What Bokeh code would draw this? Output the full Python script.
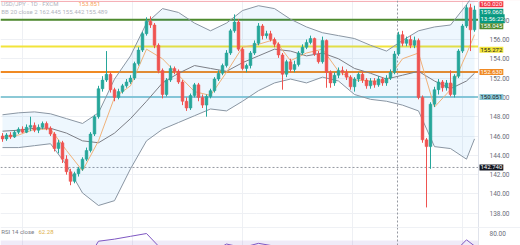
from bokeh.plotting import figure
from bokeh.models import ColumnDataSource, Label, Span, FixedTicker, Range1d, BoxAnnotation, PrintfTickFormatter
from bokeh.layouts import column
from bokeh.embed import file_html
from bokeh.resources import INLINE

# ---------------- data ----------------
idx = list(range(119))
opens = [146.0,145.7,146.1,145.9,146.4,146.7,146.4,146.9,147.1,146.6,146.9,147.3,146.8,146.2,144.7,145.3,143.6,142.3,141.3,142.1,
         142.6,143.6,144.5,146.2,148.0,150.9,151.8,152.4,150.8,150.0,150.6,151.2,151.6,152.0,153.5,154.9,156.6,157.9,157.5,155.4,
         152.8,150.3,151.8,153.0,152.7,151.6,149.6,148.9,150.2,151.3,150.0,149.2,150.1,150.7,151.9,152.5,153.3,154.6,156.9,157.8,
         155.0,153.0,153.3,154.6,155.6,157.4,156.4,156.6,156.0,155.5,154.4,152.4,153.7,152.9,153.4,154.6,155.2,155.7,156.1,154.5,
         153.7,155.9,152.6,151.5,152.3,152.8,152.6,152.1,151.1,151.9,152.4,151.8,151.2,151.7,151.3,151.9,151.5,152.0,152.6,154.5,
         156.5,155.6,156.0,155.4,155.9,150.0,145.6,144.9,149.3,150.8,151.6,151.0,151.5,150.3,152.2,154.8,157.4,159.3,157.0]
highs = [146.3,146.3,146.4,146.6,146.9,147.0,147.2,148.0,147.4,147.2,147.5,147.5,147.0,146.4,145.6,145.5,144.0,142.6,142.3,142.8,
         143.8,144.8,146.4,148.2,151.2,152.2,154.8,152.6,151.0,150.9,151.4,151.9,152.3,153.7,155.2,156.8,158.3,158.4,157.7,155.6,
         153.0,152.0,153.3,153.2,152.9,151.8,150.0,150.4,151.5,151.5,150.3,150.3,150.9,152.1,152.8,153.5,154.9,157.1,158.6,158.1,
         155.2,153.5,154.8,155.9,157.7,157.6,156.9,156.9,156.2,155.7,154.6,153.9,154.0,153.8,154.8,155.5,156.0,156.4,156.2,154.8,
         156.3,156.0,152.8,152.6,153.1,153.2,152.9,152.3,152.1,152.6,152.7,152.0,152.0,152.0,152.2,152.1,152.3,152.9,154.8,156.8,
         156.9,156.3,156.4,156.3,156.1,150.2,145.8,149.5,151.1,151.9,151.8,151.8,152.8,152.4,155.0,157.6,159.6,159.7,159.5]
lows = [145.4,145.5,145.7,145.8,146.2,146.3,146.3,146.5,146.4,146.3,146.7,146.6,146.0,144.4,144.2,143.2,142.0,140.9,141.1,141.8,
        142.4,143.4,144.3,146.0,147.8,150.6,151.6,150.5,149.6,149.8,150.4,151.0,151.4,151.8,153.3,154.7,156.4,157.2,155.1,152.5,
        149.9,150.1,151.6,152.4,151.4,149.2,148.6,148.7,150.0,149.6,148.9,148.0,149.9,150.5,151.7,152.3,153.1,154.4,156.7,154.8,
        152.8,152.6,153.0,154.4,155.4,156.0,156.1,155.8,155.2,154.1,150.8,152.1,152.6,152.6,153.2,154.4,155.0,155.5,154.3,153.5,
        153.5,151.0,151.0,151.2,152.0,152.3,151.8,150.8,150.6,151.6,151.5,150.9,150.9,151.0,151.1,151.2,151.2,151.8,152.4,154.3,
        155.3,155.3,155.1,155.1,149.8,145.3,138.6,142.6,149.0,150.3,150.6,150.7,150.1,150.0,152.0,154.6,157.2,154.8,156.8]
closes = [145.7,146.1,145.9,146.4,146.7,146.4,146.9,147.1,146.6,146.9,147.3,146.8,146.2,144.7,145.3,143.6,142.3,141.3,142.1,142.6,
          143.6,144.5,146.2,148.0,150.9,151.8,152.4,150.8,150.0,150.6,151.2,151.6,152.0,153.5,154.9,156.6,157.9,157.5,155.4,152.8,
          150.3,151.8,153.0,152.7,151.6,149.6,148.9,150.2,151.3,150.0,149.2,150.1,150.7,151.9,152.5,153.3,154.6,156.9,157.8,155.0,
          153.0,153.3,154.6,155.6,157.4,156.4,156.6,156.0,155.5,154.4,152.4,153.7,152.9,153.4,154.6,155.2,155.7,156.1,154.5,153.7,
          155.9,152.6,151.5,152.3,152.8,152.6,152.1,151.1,151.9,152.4,151.8,151.2,151.7,151.3,151.9,151.5,152.0,152.6,154.5,156.5,
          155.6,156.0,155.4,155.9,150.0,145.6,144.9,149.3,150.8,151.6,151.0,151.5,150.3,152.2,154.8,157.4,159.3,157.0,159.06]

band_idx = [0,4,8,12,16,20,24,28,32,36,40,44,48,52,56,60,64,68,72,76,80,84,88,92,96,100,104,108,112,116,118]
bb_upper = [148.2,148.4,148.5,148.3,147.8,147.3,148.4,151.9,154.3,157.7,159.2,158.8,157.7,156.9,157.7,159.0,159.5,159.2,158.1,157.3,
            156.7,156.4,156.1,155.4,154.8,155.9,156.9,157.3,157.5,159.6,160.8]
bb_basis = [146.5,146.6,146.8,146.8,146.3,145.5,145.3,146.3,147.8,149.6,151.5,152.5,153.3,153.0,152.7,153.6,154.3,155.0,154.8,154.3,
            154.6,154.0,153.0,152.5,151.9,152.3,152.7,151.7,150.9,151.7,152.5]
bb_lower = [144.8,144.8,145.0,145.2,143.0,140.1,138.8,139.3,142.6,145.5,146.7,147.4,148.1,148.8,148.6,149.6,150.7,151.5,151.9,151.5,
            152.1,151.7,150.3,149.8,149.6,149.2,148.6,144.9,144.7,143.6,145.7]
fast_ma = [145.9,146.1,146.7,146.7,144.5,142.4,145.5,150.0,151.2,155.0,154.0,152.3,150.6,150.2,152.6,155.2,155.5,156.0,153.8,154.6,
           155.0,152.7,151.8,151.7,151.7,154.0,154.6,149.0,150.8,154.5,156.5]
rsi = [55,58,62,56,36,32,69,72,76,80,56,52,48,52,65,60,66,62,55,60,58,50,46,48,50,62,45,42,48,71,62.28]

levels = [158.045, 155.272, 152.630, 150.051]
level_colors = ["#4e8a2e", "#f2e43a", "#f08a24", "#8cc9d6"]
level_text_colors = ["#ffffff", "#131722", "#ffffff", "#131722"]
level_label_y = [157.38, 154.95, 152.630, 150.051]
price_ticks = [138, 140, 142, 144, 146, 148, 150, 152, 154, 156, 158]
time_grid = [5, 32.5, 60, 87.5, 115]
crosshair_x = 98.75
crosshair_y = 142.74
top_line = 159.95
top_label_y = 159.64
last_label_y = 158.88
countdown_label_y = 158.16
last_price_text = "159.060"
countdown_text = "13:56:22"

FONT = "Roboto"
UP, DOWN = "#26a69a", "#ef5350"
X_RANGE = (-0.5, 129.5)
SCALE_START = 119.0
LABEL_X = 119.25

inc = [c >= o for o, c in zip(opens, closes)]
src = ColumnDataSource(dict(
    x=idx, o=opens, h=highs, l=lows, c=closes,
    top=[max(o, c) for o, c in zip(opens, closes)],
    bot=[min(o, c) for o, c in zip(opens, closes)],
    col=[UP if k else DOWN for k in inc],
))
bsrc = ColumnDataSource(dict(x=band_idx, up=bb_upper, mid=bb_basis, lo=bb_lower, fast=fast_ma, rsi=rsi))


def style_axis(a, ticks):
    a.ticker = FixedTicker(ticks=ticks)
    a.formatter = PrintfTickFormatter(format="%.2f")
    a.axis_line_color = None
    a.major_tick_line_color = None
    a.minor_tick_line_color = None
    a.major_tick_out = 0
    a.major_label_standoff = -31
    a.major_label_text_font = FONT
    a.major_label_text_font_size = "6.5px"
    a.major_label_text_color = "#6a6d78"


p = figure(width=520, height=227, x_range=Range1d(*X_RANGE), y_range=Range1d(136.52, 160.04),
           output_backend="svg", toolbar_location=None, x_axis_location=None, y_axis_location="right",
           min_border_left=0, min_border_right=0, min_border_top=0, min_border_bottom=0)
p.outline_line_color = None
p.xgrid.ticker = FixedTicker(ticks=time_grid)
p.ygrid.ticker = FixedTicker(ticks=price_ticks)
p.xgrid.grid_line_color = "#eef0f4"
p.ygrid.grid_line_color = "#eef0f4"
style_axis(p.yaxis[0], price_ticks)

# lines under candles
p.add_layout(Span(location=top_line, dimension="width", line_color="#f4a3ab", line_width=1, level="underlay"))
for lv, col in zip(levels, level_colors):
    p.add_layout(Span(location=lv, dimension="width", line_color=col, line_width=2, level="underlay"))
p.add_layout(Span(location=crosshair_x, dimension="height", line_color="#9598a1", line_width=1, line_dash="2 2", level="underlay"))
p.add_layout(Span(location=crosshair_y, dimension="width", line_color="#9598a1", line_width=1, line_dash="2 2", level="underlay"))
# price-scale area
p.add_layout(BoxAnnotation(left=SCALE_START, fill_color="#ffffff", fill_alpha=1, line_color=None, level="underlay"))
p.add_layout(Span(location=SCALE_START, dimension="height", line_color="#e0e3eb", line_width=1, level="underlay"))

# Bollinger fill and lines
p.varea(x="x", y1="lo", y2="up", source=bsrc, fill_color="#2196f3", fill_alpha=0.08)
p.line(x="x", y="up", source=bsrc, line_color="#8a96a3", line_width=1)
p.line(x="x", y="lo", source=bsrc, line_color="#8a96a3", line_width=1)
p.line(x="x", y="mid", source=bsrc, line_color="#7d7f86", line_width=1)
p.line(x="x", y="fast", source=bsrc, line_color="#f0b27a", line_width=1)

# candles
p.segment(x0="x", y0="l", x1="x", y1="h", source=src, line_color="col", line_width=1)
p.vbar(x="x", bottom="bot", top="top", width=0.7, source=src, fill_color="col", line_color="col", line_width=0.5)


def plabel(fig, y, text, bg, fg):
    fig.add_layout(Label(x=LABEL_X, y=y, text=text, text_font=FONT, text_font_size="6px", text_color=fg,
                         text_baseline="middle", text_align="left", background_fill_color=bg,
                         padding=1))


plabel(p, top_label_y, "160.020", "#f23645", "#ffffff")
plabel(p, last_label_y, last_price_text, "#089981", "#ffffff")
plabel(p, countdown_label_y, countdown_text, "#089981", "#ffffff")
for lv, col, tc, ly in zip(levels, level_colors, level_text_colors, level_label_y):
    plabel(p, ly, f"{lv:.3f}", col, tc)
plabel(p, crosshair_y, "142.740", "#131722", "#ffffff")

p.add_layout(Label(x=-0.3, y=159.68, text="USD/JPY · 1D · FXCM", text_font=FONT, text_font_size="6px",
                   text_color="#b2b5be", text_baseline="middle"))
p.add_layout(Label(x=19.0, y=159.68, text="153.851", text_font=FONT, text_font_size="6px",
                   text_color="#f7a35c", text_baseline="middle"))
p.add_layout(Label(x=-0.3, y=158.9, text="BB 20 close 2   162.445   155.442   155.489", text_font=FONT,
                   text_font_size="6px", text_color="#b2b5be", text_baseline="middle"))

# ---------------- RSI pane ----------------
r = figure(width=520, height=18, x_range=p.x_range, y_range=Range1d(62.9, 88.6),
           output_backend="svg", toolbar_location=None, x_axis_location=None, y_axis_location="right",
           min_border_left=0, min_border_right=0, min_border_top=0, min_border_bottom=0)
r.outline_line_color = None
r.xgrid.ticker = FixedTicker(ticks=time_grid)
r.xgrid.grid_line_color = "#eef0f4"
r.ygrid.grid_line_color = None
style_axis(r.yaxis[0], [80])
r.add_layout(BoxAnnotation(top=70, fill_color="#7e57c2", fill_alpha=0.12, line_color=None, level="underlay"))
r.add_layout(Span(location=crosshair_x, dimension="height", line_color="#9598a1", line_width=1, line_dash="2 2", level="underlay"))
r.add_layout(BoxAnnotation(left=SCALE_START, fill_color="#ffffff", fill_alpha=1, line_color=None, level="underlay"))
r.add_layout(Span(location=SCALE_START, dimension="height", line_color="#e0e3eb", line_width=1, level="underlay"))
r.add_layout(Span(location=88.6, dimension="width", line_color="#e0e3eb", line_width=1, level="underlay"))
r.line(x="x", y="rsi", source=bsrc, line_color="#7e57c2", line_width=1)
r.add_layout(Label(x=-0.3, y=82.5, text="RSI 14 close", text_font=FONT, text_font_size="6px",
                   text_color="#787b86", text_baseline="middle"))
r.add_layout(Label(x=9.0, y=82.5, text="62.28", text_font=FONT, text_font_size="6px",
                   text_color="#e0b04a", text_baseline="middle"))

layout = column(p, r, spacing=0)
open("out.html", "w").write(file_html(layout, INLINE))
